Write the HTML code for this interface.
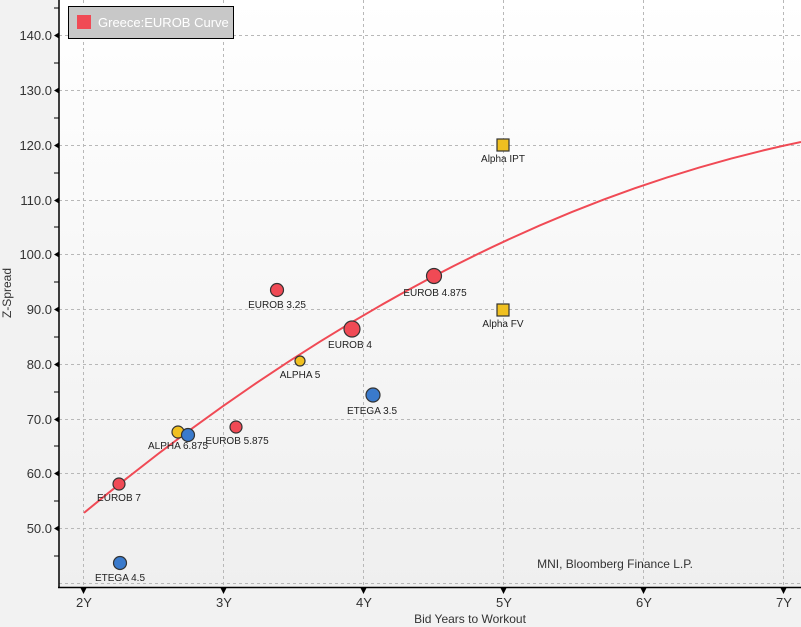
<!DOCTYPE html>
<html><head><style>
html,body{margin:0;padding:0;background:#f2f2f2;}
svg{display:block;font-family:"Liberation Sans","DejaVu Sans",sans-serif;}
</style></head><body>
<svg width="801" height="627" viewBox="0 0 801 627" xmlns="http://www.w3.org/2000/svg">
<defs>
<linearGradient id="bg" x1="0" y1="0" x2="0" y2="1">
<stop offset="0" stop-color="#ffffff"/><stop offset="1" stop-color="#efefef"/>
</linearGradient>
</defs>
<rect x="59" y="0" width="742" height="587" fill="url(#bg)"/>
<g stroke="#b8b8b8" stroke-dasharray="3,3" stroke-width="1">
<line x1="59" x2="801" y1="35.5" y2="35.5"/><line x1="59" x2="801" y1="90.5" y2="90.5"/>
<line x1="59" x2="801" y1="145.5" y2="145.5"/><line x1="59" x2="801" y1="200.5" y2="200.5"/>
<line x1="59" x2="801" y1="254.5" y2="254.5"/><line x1="59" x2="801" y1="309.5" y2="309.5"/>
<line x1="59" x2="801" y1="364.5" y2="364.5"/><line x1="59" x2="801" y1="419.5" y2="419.5"/>
<line x1="59" x2="801" y1="473.5" y2="473.5"/><line x1="59" x2="801" y1="528.5" y2="528.5"/>
<line x1="59" x2="801" y1="583.5" y2="583.5"/>
<line x1="83.5" x2="83.5" y1="0" y2="587"/><line x1="223.5" x2="223.5" y1="0" y2="587"/>
<line x1="363.5" x2="363.5" y1="0" y2="587"/><line x1="503.5" x2="503.5" y1="0" y2="587"/>
<line x1="643.5" x2="643.5" y1="0" y2="587"/><line x1="783.5" x2="783.5" y1="0" y2="587"/>
</g>
<g stroke="#000" stroke-width="1.5" fill="none">
<line x1="59" y1="0" x2="59" y2="588"/><line x1="58" y1="587.5" x2="801" y2="587.5"/>
</g>
<g stroke="#000" stroke-width="1">
<line x1="54" x2="59" y1="8" y2="8"/><line x1="54" x2="59" y1="63" y2="63"/><line x1="54" x2="59" y1="118" y2="118"/>
<line x1="54" x2="59" y1="173" y2="173"/><line x1="54" x2="59" y1="227" y2="227"/><line x1="54" x2="59" y1="282" y2="282"/>
<line x1="54" x2="59" y1="337" y2="337"/><line x1="54" x2="59" y1="392" y2="392"/><line x1="54" x2="59" y1="446" y2="446"/>
<line x1="54" x2="59" y1="501" y2="501"/><line x1="54" x2="59" y1="556" y2="556"/>
</g>
<g fill="#000">
<polygon points="54,35.5 59,32.5 59,38.5"/><polygon points="54,90.5 59,87.5 59,93.5"/><polygon points="54,145.5 59,142.5 59,148.5"/>
<polygon points="54,200.5 59,197.5 59,203.5"/><polygon points="54,254.5 59,251.5 59,257.5"/><polygon points="54,309.5 59,306.5 59,312.5"/>
<polygon points="54,364.5 59,361.5 59,367.5"/><polygon points="54,419.5 59,416.5 59,422.5"/><polygon points="54,473.5 59,470.5 59,476.5"/>
<polygon points="54,528.5 59,525.5 59,531.5"/>
<polygon points="80.5,588 86.5,588 83.5,594"/><polygon points="220.5,588 226.5,588 223.5,594"/><polygon points="360.5,588 366.5,588 363.5,594"/>
<polygon points="500.5,588 506.5,588 503.5,594"/><polygon points="640.5,588 646.5,588 643.5,594"/><polygon points="780.5,588 786.5,588 783.5,594"/>
</g>
<g font-size="13" fill="#333" text-anchor="end">
<text x="52" y="40">140.0</text><text x="52" y="95">130.0</text><text x="52" y="150">120.0</text>
<text x="52" y="205">110.0</text><text x="52" y="259">100.0</text><text x="52" y="314">90.0</text>
<text x="52" y="369">80.0</text><text x="52" y="424">70.0</text><text x="52" y="478">60.0</text>
<text x="52" y="533">50.0</text>
</g>
<g font-size="13" fill="#333" text-anchor="middle">
<text x="84" y="607">2Y</text><text x="224" y="607">3Y</text><text x="364" y="607">4Y</text>
<text x="504" y="607">5Y</text><text x="644" y="607">6Y</text><text x="784" y="607">7Y</text>
<text x="470" y="623" font-size="12">Bid Years to Workout</text>
</g>
<text transform="translate(11,293) rotate(-90)" font-size="12" fill="#333" text-anchor="middle">Z-Spread</text>
<path d="M84,512.9 Q442.5,216 801,142" fill="none" stroke="#f04a55" stroke-width="2"/>
<g stroke="#333" stroke-width="1.2">
<circle cx="120" cy="563" r="6.5" fill="#3a7acc"/>
<circle cx="119" cy="484" r="6" fill="#f04a55"/>
<circle cx="178" cy="432" r="6" fill="#f0c020"/>
<circle cx="188" cy="435" r="6.5" fill="#3a7acc"/>
<circle cx="236" cy="427" r="6" fill="#f04a55"/>
<circle cx="277" cy="290" r="6.5" fill="#f04a55"/>
<circle cx="352" cy="329" r="8" fill="#f04a55"/>
<circle cx="300" cy="361" r="5" fill="#f0c020"/>
<circle cx="373" cy="395" r="7" fill="#3a7acc"/>
<circle cx="434" cy="276" r="7.5" fill="#f04a55"/>
<rect x="497" y="139" width="12" height="12" fill="#f0c020"/>
<rect x="497" y="304" width="12" height="12" fill="#f0c020"/>
</g>
<g font-size="10" fill="#222" text-anchor="middle">
<text x="120" y="581">ETEGA 4.5</text><text x="119" y="501">EUROB 7</text>
<text x="178" y="449">ALPHA 6.875</text><text x="237" y="444">EUROB 5.875</text>
<text x="277" y="308">EUROB 3.25</text><text x="350" y="348">EUROB 4</text>
<text x="300" y="378">ALPHA 5</text><text x="372" y="414">ETEGA 3.5</text>
<text x="435" y="296">EUROB 4.875</text><text x="503" y="162">Alpha IPT</text>
<text x="503" y="327">Alpha FV</text>
</g>
<text x="693" y="568" font-size="12" fill="#333" text-anchor="end">MNI, Bloomberg Finance L.P.</text>
<rect x="68.5" y="6.5" width="165" height="32" fill="#c8c8c8" stroke="#000" stroke-width="1"/>
<rect x="77" y="15" width="14" height="14" fill="#f04a55"/>
<text x="98" y="27" font-size="13" fill="#fff">Greece:EUROB Curve</text>
</svg>
</body></html>
